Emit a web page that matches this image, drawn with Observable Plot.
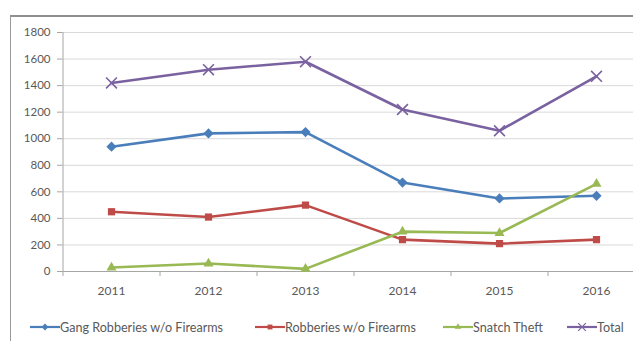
<!DOCTYPE html>
<html>
<head>
<meta charset="utf-8">
<script src="https://cdn.jsdelivr.net/npm/d3@7"></script>
<script src="https://cdn.jsdelivr.net/npm/@observablehq/plot@0.6"></script>
<style>
  html, body { margin: 0; padding: 0; background: #fff; }
  #wrap { position: relative; width: 633px; height: 341px; overflow: hidden; background: #fff; font-family: Lato, "Open Sans", sans-serif; }
  #border { position: absolute; left: 10px; top: 15px; width: 700px; height: 400px; border-left: 1.5px solid #9a9a9a; border-top: 2px solid #8f8f8f; }
  #chart { position: absolute; left: 0; top: 0; }
  #legend { position: absolute; left: 0; top: 318px; width: 633px; height: 18px; font-size: 12.6px; color: #595959; white-space: nowrap; }
  .item { position: absolute; top: 0; height: 18px; display: flex; align-items: center; }
  .item svg { display: block; }
</style>
</head>
<body>
<div id="wrap">
  <div id="border"></div>
  <div id="chart"></div>
  <div id="legend"></div>
</div>
<script>
// Yearly counts per offence type
const years = [2011, 2012, 2013, 2014, 2015, 2016];
const gang = [940, 1040, 1050, 670, 550, 570];
const robberies = [450, 410, 500, 240, 210, 240];
const snatch = [30, 60, 20, 300, 290, 660];
const total = [1420, 1520, 1580, 1220, 1060, 1470];
const yTicks = [0, 200, 400, 600, 800, 1000, 1200, 1400, 1600, 1800];

const series = [
  {name: "Gang Robberies w/o Firearms", values: gang, color: "#4a7ebb", symbol: "diamond2", r: 4.6},
  {name: "Robberies w/o Firearms", values: robberies, color: "#be4b48", symbol: "square2", r: 4.6},
  {name: "Snatch Theft", values: snatch, color: "#98b954", symbol: "triangle2", r: 4.8},
  {name: "Total", values: total, color: "#7a62a0", symbol: "times", r: 5}
];
// left edge of each legend entry
const legendLeft = [30, 255, 443, 567];

const rows = series.flatMap(s => years.map((yr, i) => ({series: s.name, year: yr, value: s.values[i]})));
const bounds = d3.range(years.length + 1).map(i => years[0] - 0.5 + i);

const marks = [
  Plot.ruleY(yTicks.filter(v => v > 0), {stroke: "#d9d9d9", strokeWidth: 1}),
  Plot.ruleY([0], {stroke: "#a6a6a6", strokeWidth: 1}),
  Plot.ruleX([bounds[0]], {y1: 0, y2: 1800, stroke: "#a6a6a6", strokeWidth: 1}),
  Plot.axisY({ticks: yTicks, tickSize: 5, tickPadding: 7, stroke: "#a6a6a6", fill: "#595959", fontSize: 11.5, label: null, tickFormat: d => String(d)}),
  Plot.axisX({ticks: bounds, tickSize: 5, stroke: "#a6a6a6", label: null, tickFormat: () => ""}),
  Plot.axisX({ticks: years, tickSize: 0, tickPadding: 15, fill: "#595959", fontSize: 12, label: null, tickFormat: d => String(d)})
];

for (const s of series) {
  const data = rows.filter(d => d.series === s.name);
  marks.push(Plot.line(data, {x: "year", y: "value", stroke: s.color, strokeWidth: 2.6}));
  if (s.symbol === "times") {
    marks.push(Plot.dot(data, {x: "year", y: "value", symbol: s.symbol, r: s.r, stroke: s.color, strokeWidth: 1.6}));
  } else {
    marks.push(Plot.dot(data, {x: "year", y: "value", symbol: s.symbol, r: s.r, fill: s.color, stroke: "none"}));
  }
}

const chart = Plot.plot({
  width: 633,
  height: 305,
  marginLeft: 62,
  marginRight: 0,
  marginTop: 32,
  marginBottom: 34,
  style: {background: "transparent", fontFamily: "Lato, 'Open Sans', sans-serif"},
  x: {type: "linear", domain: [years[0] - 0.5, years[years.length - 1] + 0.5], range: [62.5, 644.5], label: null},
  y: {domain: [0, 1800], range: [271, 32], label: null},
  marks
});
document.getElementById("chart").appendChild(chart);

// Legend: short line sample with the series marker, then the name
const legend = d3.select("#legend");
series.forEach((s, i) => {
  const item = legend.append("div").attr("class", "item").style("left", legendLeft[i] + "px");
  const svg = item.append("svg").attr("width", 30).attr("height", 12);
  svg.append("line").attr("x1", 0).attr("x2", 30).attr("y1", 6).attr("y2", 6)
    .attr("stroke", s.color).attr("stroke-width", 2.2);
  const sym = {diamond2: d3.symbolDiamond2, square2: d3.symbolSquare2, triangle2: d3.symbolTriangle2, times: d3.symbolTimes}[s.symbol];
  const path = svg.append("path").attr("transform", "translate(15,6)")
    .attr("d", d3.symbol(sym, s.symbol === "times" ? 40 : 30)());
  if (s.symbol === "times") path.attr("fill", "none").attr("stroke", s.color).attr("stroke-width", 1.2);
  else path.attr("fill", s.color);
  item.append("span").text(s.name);
});
</script>
</body>
</html>
